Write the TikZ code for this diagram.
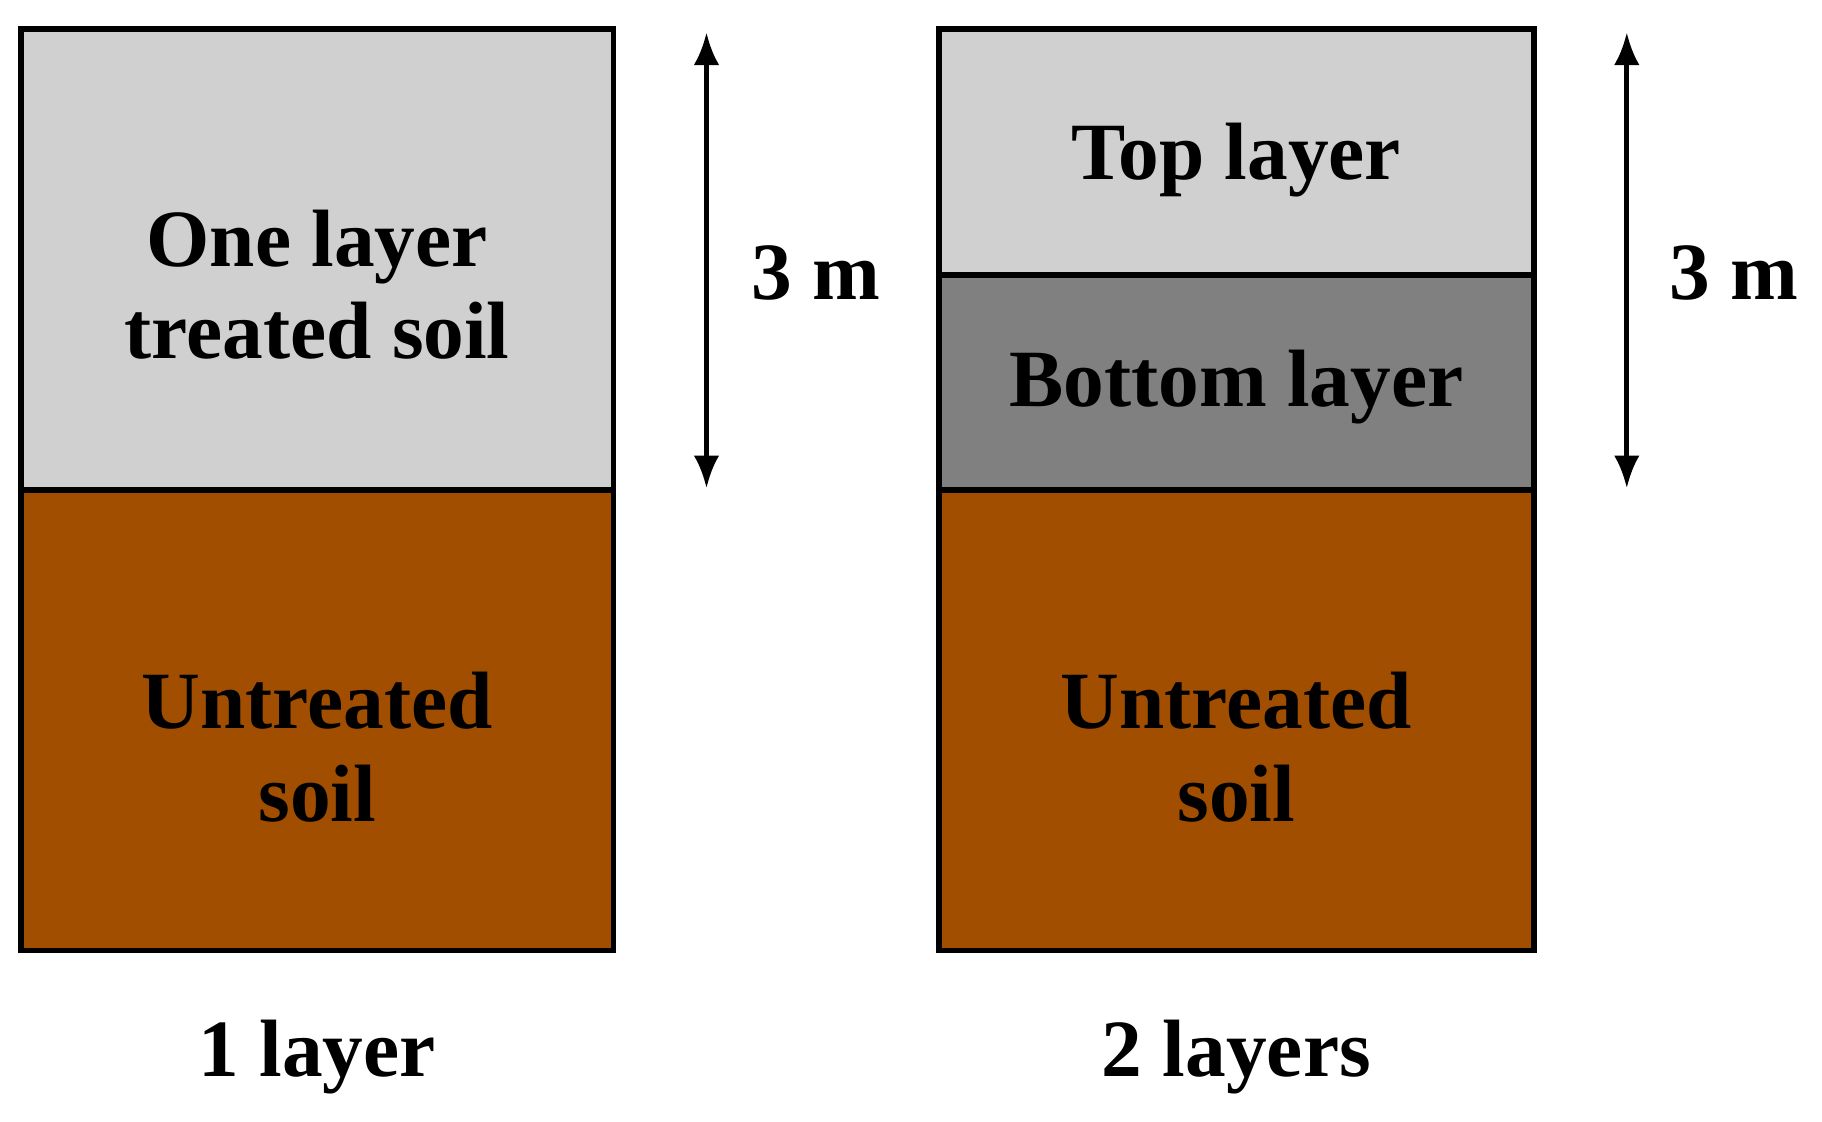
\documentclass[tikz,border=0pt]{standalone}
\usepackage{fontspec}
\setmainfont{Liberation Serif}
\usetikzlibrary{arrows.meta}
\definecolor{lgray}{HTML}{D0D0D0}
\definecolor{dgray}{HTML}{808080}
\definecolor{soil}{HTML}{A14E00}
\tikzset{lay/.style={draw=black,line width=2.5pt},
 txt/.style={font=\fontsize{35}{40}\selectfont\bfseries,align=center,text=black},
 dim/.style={line width=2pt,{Latex[length=14pt,width=11pt]}-{Latex[length=14pt,width=11pt]}}}
\begin{document}
\begin{tikzpicture}[x=0.5pt,y=-0.5pt]
\useasboundingbox (0,0) rectangle (1568,965);
% left column
\fill[lgray] (18,25) rectangle (528,422);
\fill[soil] (18,422) rectangle (528,818);
\draw[lay] (18,422) -- (528,422);
\draw[lay] (18,25) rectangle (528,818);
\node[txt] (t1) at (273,245) {One layer\\treated soil};
\node[txt] (u1) at (273,643) {Untreated\\soil};
\coordinate (a1) at (608,28);
\coordinate (b1) at (608,420);
\draw[dim] (a1) -- (b1);
\node[txt] (m1) at (702,235) {3 m};
\node[txt] (l1) at (273,910) {1 layer};
% right column
\fill[lgray] (808,25) rectangle (1320,237);
\fill[dgray] (808,237) rectangle (1320,422);
\fill[soil] (808,422) rectangle (1320,818);
\draw[lay] (808,237) -- (1320,237);
\draw[lay] (808,422) -- (1320,422);
\draw[lay] (808,25) rectangle (1320,818);
\node[txt] (t2) at (1064,138) {Top layer};
\node[txt] (bt2) at (1064,333) {Bottom layer};
\node[txt] (u2) at (1064,643) {Untreated\\soil};
\coordinate (a2) at (1400,28);
\coordinate (b2) at (1400,420);
\draw[dim] (a2) -- (b2);
\node[txt] (m2) at (1492,235) {3 m};
\node[txt] (l2) at (1064,910) {2 layers};
\end{tikzpicture}
\end{document}
